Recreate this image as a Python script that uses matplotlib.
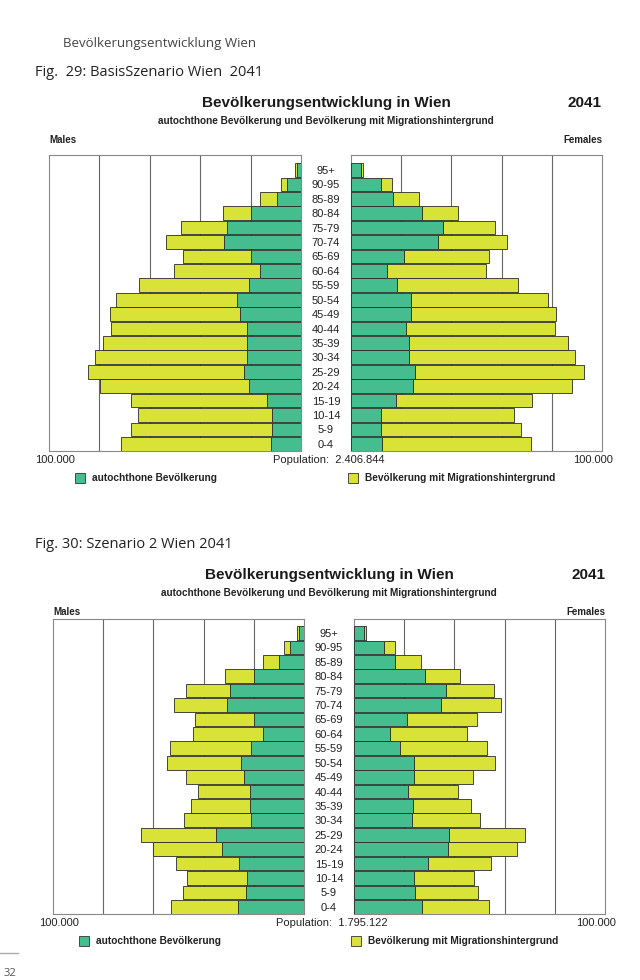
import matplotlib.pyplot as plt

# age groups, bottom (0-4) to top (95+)
ages = ["0-4", "5-9", "10-14", "15-19", "20-24", "25-29", "30-34", "35-39",
        "40-44", "45-49", "50-54", "55-59", "60-64", "65-69", "70-74",
        "75-79", "80-84", "85-89", "90-95", "95+"]

# values in thousands of persons
# Fig. 29 BasisSzenario
m_auto_29 = [11.8, 11.4, 11.4, 13.6, 20.8, 22.8, 21.3, 21.6, 21.6, 24.2,
             25.3, 20.8, 16.2, 20.0, 30.5, 29.3, 20.0, 9.7, 5.7, 1.7]
m_mig_29 = [59.6, 56.0, 53.1, 53.8, 58.8, 61.7, 60.3, 57.0, 53.6, 51.4,
            48.1, 43.6, 34.3, 27.0, 22.9, 18.4, 11.1, 6.6, 2.4, 0.7]
f_auto_29 = [12.5, 12.1, 12.1, 17.8, 24.9, 25.6, 23.2, 23.2, 21.8, 24.0,
             24.0, 18.4, 14.5, 21.1, 34.7, 36.7, 28.1, 16.6, 12.1, 4.0]
f_mig_29 = [59.4, 55.7, 52.9, 54.5, 63.3, 67.2, 65.9, 63.3, 59.5, 57.8,
            54.5, 48.1, 39.3, 34.0, 27.6, 20.8, 14.6, 10.5, 4.4, 0.9]

# Fig. 30 Szenario 2
m_auto_30 = [26.2, 23.0, 22.6, 25.8, 32.8, 35.0, 21.3, 21.7, 21.5, 24.1,
             25.0, 21.1, 16.3, 20.1, 30.6, 29.3, 20.1, 9.9, 5.7, 1.9]
m_mig_30 = [26.6, 25.3, 24.2, 25.0, 27.4, 30.1, 26.6, 23.4, 20.9, 22.9,
            29.4, 32.2, 27.9, 23.4, 21.1, 17.9, 11.3, 6.4, 2.4, 0.7]
f_auto_30 = [27.1, 24.2, 23.9, 29.5, 37.6, 37.9, 23.1, 23.4, 21.7, 23.9,
             23.9, 18.4, 14.4, 21.1, 34.8, 36.8, 28.1, 16.5, 12.1, 3.9]
f_mig_30 = [26.6, 25.1, 23.8, 25.0, 27.3, 30.3, 27.0, 23.1, 19.7, 23.4,
            32.2, 34.6, 30.7, 27.8, 23.7, 18.8, 14.1, 10.1, 4.4, 0.9]

GREEN = "#45bd8e"
YELLOW = "#d9e236"
W, H = 640, 980
SANS = ["Liberation Sans", "DejaVu Sans"]
PAGE = ["Open Sans", "DejaVu Sans"]

fig = plt.figure(figsize=(6.4, 9.8), dpi=100)
fig.patch.set_facecolor("white")


def px_axes(x0, y0, x1, y1):
    return fig.add_axes([x0 / W, 1 - y1 / H, (x1 - x0) / W, (y1 - y0) / H])


def ftext(x, y, s, **kw):
    kw.setdefault("family", SANS)
    fig.text(x / W, 1 - y / H, s, **kw)


def panel(ax, auto, mig, left, ylim):
    y = list(range(len(ages)))
    ax.barh(y, auto, height=0.95, color=GREEN, edgecolor="#2a2a2a",
            linewidth=0.6, zorder=3)
    ax.barh(y, mig, left=auto, height=0.95, color=YELLOW, edgecolor="#2a2a2a",
            linewidth=0.6, zorder=3)
    for g in (20, 40, 60, 80):
        ax.axvline(g, color="#666666", lw=0.8, zorder=1)
    ax.set_xlim((100, 0) if left else (0, 100))
    ax.set_ylim(*ylim)
    ax.set_xticks([])
    for sp in ax.spines.values():
        sp.set_color("#888888")
        sp.set_linewidth(0.8)
    if left:
        ax.set_yticks([])
    else:
        ax.set_yticks(y)
        ax.set_yticklabels(ages, fontsize=8, family=SANS, color="#222222",
                           ha="center")
        ax.tick_params(axis="y", length=0, pad=18)


def chart(top, lx0, lx1, rx0, rx1, box_top, box_bot, ylim, fig_label,
          data, population):
    m_auto, m_mig, f_auto, f_mig = data
    ftext(35, top, fig_label, fontsize=10.5, family=PAGE,
          color="#222222", va="center")
    mid = (lx1 + rx0) / 2
    ftext(mid, top + 30, "Bevölkerungsentwicklung in Wien", fontsize=11,
          weight="bold", ha="center", va="center", color="#1a1a1a")
    ftext(rx1, top + 30, "2041", fontsize=11, weight="bold", ha="right",
          va="center", color="#1a1a1a")
    ftext(mid, top + 48, "autochthone Bevölkerung und Bevölkerung mit "
          "Migrationshintergrund", fontsize=7.2, weight="bold", ha="center",
          va="center", color="#222222")
    ftext(lx0, top + 67, "Males", fontsize=7, weight="bold", va="center",
          color="#222222")
    ftext(rx1, top + 67, "Females", fontsize=7, weight="bold", ha="right",
          va="center", color="#222222")

    axl = px_axes(lx0, box_top, lx1, box_bot)
    axr = px_axes(rx0, box_top, rx1, box_bot)
    panel(axl, m_auto, m_mig, True, ylim)
    panel(axr, f_auto, f_mig, False, ylim)

    yb = box_bot + 9
    ftext(lx0 + 6, yb, "100.000", fontsize=8, ha="center", va="center",
          color="#222222")
    ftext(mid + 3, yb, "Population:  " + population, fontsize=8, ha="center",
          va="center", color="#222222")
    ftext(rx1 - 9, yb, "100.000", fontsize=8, ha="center", va="center",
          color="#222222")

    yl = box_bot + 27
    for x, c, lab in ((lx0 + 31, GREEN, "autochthone Bevölkerung"),
                      (rx0 + 2, YELLOW, "Bevölkerung mit Migrationshintergrund")):
        fig.patches.append(plt.Rectangle(((x - 5) / W, 1 - (yl + 5) / H),
                                         10 / W, 10 / H, facecolor=c,
                                         edgecolor="#333333", lw=0.6,
                                         transform=fig.transFigure))
        ftext(x + 12, yl, lab, fontsize=7.3, weight="bold", va="center",
              color="#222222")


ftext(63, 43, "Bevölkerungsentwicklung Wien", fontsize=9.5,
      family=PAGE, color="#444444", va="center")

chart(73, 49, 301, 351, 602, 155, 451, (-0.5, 20.04),
      "Fig.  29: BasisSzenario Wien  2041",
      (m_auto_29, m_mig_29, f_auto_29, f_mig_29), "2.406.844")
chart(545, 53, 304, 354, 605, 619, 914, (-0.5, 19.97),
      "Fig. 30: Szenario 2 Wien 2041",
      (m_auto_30, m_mig_30, f_auto_30, f_mig_30), "1.795.122")

fig.add_artist(plt.Line2D([0, 18 / W], [1 - 953 / H] * 2, color="#aaaaaa",
                          lw=1, transform=fig.transFigure))
ftext(4, 979, "32", fontsize=8, family=PAGE, color="#555555", va="bottom")

fig.savefig("out.png", dpi=100)
